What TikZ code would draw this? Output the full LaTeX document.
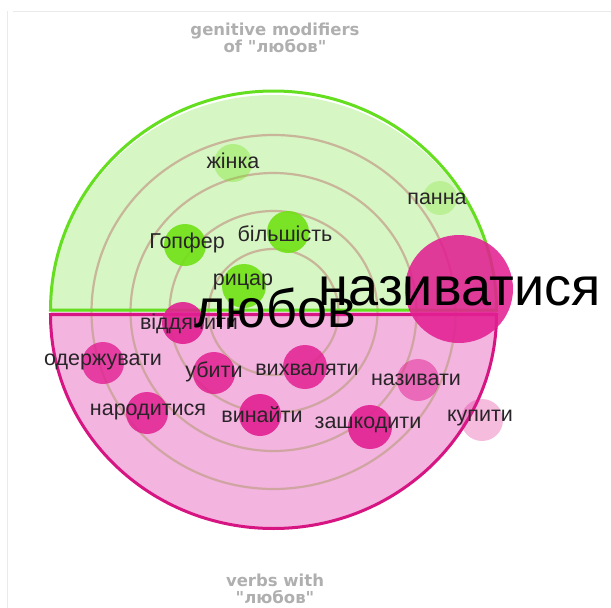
\documentclass[tikz,border=0pt]{standalone}
\usepackage{fontspec}
\setmainfont{Liberation Sans}
\newfontfamily\titlefont{DejaVu Sans}
\usetikzlibrary{positioning}
\definecolor{GreenFill}{RGB}{214, 246, 196}
\definecolor{GreenEdge}{RGB}{100, 222, 30}
\definecolor{GreenBub}{RGB}{112, 226, 20}
\definecolor{PinkFill}{RGB}{243, 180, 224}
\definecolor{PinkEdge}{RGB}{214, 20, 130}
\definecolor{PinkBub}{RGB}{226, 32, 146}
\definecolor{RingTan}{RGB}{196, 160, 140}
\definecolor{LabelDark}{RGB}{40, 36, 40}
\definecolor{TitleGray}{RGB}{175, 175, 175}
\definecolor{FrameGray}{RGB}{234, 234, 234}

\begin{document}
\begin{tikzpicture}[x=1pt, y=-1pt,
  ring/.style={RingTan, line width=2.2pt, opacity=0.75},
  gbub/.style={circle, fill=GreenBub, inner sep=0pt},
  pbub/.style={circle, fill=PinkBub, inner sep=0pt},
  lbl/.style={text=LabelDark, font=\fontsize{21.5}{21.5}\selectfont, inner sep=0pt},
  bigword/.style={font=\fontsize{54}{54}\selectfont, anchor=base, inner sep=0pt},
  heading/.style={text=TitleGray, font=\titlefont\bfseries\fontsize{16.5}{16.5}\selectfont, align=center}]
  \useasboundingbox (0,0) rectangle (611,608);

  % Frame edges
  \draw[FrameGray, line width=1pt] (13,11) -- (611,11);
  \draw[FrameGray, line width=1pt] (7,11) -- (7,608);

  % Headings
  \node[heading] (top-head) at (275,38) {genitive modifiers\\of "любов"};
  \node[heading] (bot-head) at (275,589) {verbs with\\"любов"};

  % Half discs
  \fill[GreenFill] (50.5,312) arc[start angle=180, end angle=0, x radius=223pt, y radius=217pt] -- cycle;
  \fill[PinkFill] (50.5,312) arc[start angle=180, end angle=360, x radius=223pt, y radius=217pt] -- cycle;

  % Rings
  \draw[ring] (273.5,312) ellipse (182pt and 177pt);
  \draw[ring] (273.5,312) ellipse (143pt and 139pt);
  \draw[ring] (273.5,312) ellipse (104pt and 101pt);
  \draw[ring] (273.5,312) ellipse (65pt and 63pt);

  % Borders
  \draw[GreenEdge, line width=3pt] (50.5,310) arc[start angle=180, end angle=0, x radius=223pt, y radius=219pt] -- cycle;
  \draw[PinkEdge, line width=3pt] (50.5,314.5) arc[start angle=180, end angle=360, x radius=223pt, y radius=214pt] -- cycle;

  % Genitive modifiers
  \node[gbub, minimum size=38pt, opacity=0.35] (b-zhinka) at (233,163) {};
  \node[gbub, minimum size=34pt, opacity=0.25] (b-panna) at (440,198) {};
  \node[gbub, minimum size=42pt, opacity=0.9] (b-gopfer) at (185,245) {};
  \node[gbub, minimum size=42pt, opacity=0.9] (b-bilshist) at (288,232) {};
  \node[gbub, minimum size=44pt, opacity=0.9] (b-rycar) at (244,286) {};
  \node[lbl] (zhinka) at (233,161) {жінка};
  \node[lbl] (panna) at (437,199) {панна};
  \node[lbl] (gopfer) at (187,243) {Гопфер};
  \node[lbl] (bilshist) at (285,234) {більшість};
  \node[lbl] (rycar) at (243,282) {рицар};

  % Verbs
  \node[pbub, minimum size=108pt, opacity=0.88] (b-nazyvatysia) at (459,289) {};
  \node[pbub, minimum size=42pt, opacity=0.9] (b-viddiachyty) at (183,323) {};
  \node[pbub, minimum size=42pt, opacity=0.8] (b-oderzhuvaty) at (103,363) {};
  \node[pbub, minimum size=42pt, opacity=0.85] (b-ubyty) at (214,373) {};
  \node[pbub, minimum size=44pt, opacity=0.85] (b-vykhvaliaty) at (305,367) {};
  \node[pbub, minimum size=42pt, opacity=0.5] (b-nazyvaty) at (418,380) {};
  \node[pbub, minimum size=42pt, opacity=0.85] (b-narodytysia) at (147,413) {};
  \node[pbub, minimum size=42pt, opacity=0.9] (b-vynaity) at (260,415) {};
  \node[pbub, minimum size=44pt, opacity=0.9] (b-zashkodyty) at (370,427) {};
  \node[pbub, minimum size=42pt, opacity=0.3] (b-kupyty) at (482,420) {};
  \node[lbl] (viddiachyty) at (189,324) {віддячити};
  \node[lbl] (oderzhuvaty) at (103,362) {одержувати};
  \node[lbl] (ubyty) at (214,372) {убити};
  \node[lbl] (vykhvaliaty) at (307,370) {вихваляти};
  \node[lbl] (nazyvaty) at (416,380) {називати};
  \node[lbl] (narodytysia) at (148,412) {народитися};
  \node[lbl] (vynaity) at (262,415) {винайти};
  \node[lbl] (zashkodyty) at (368,425) {зашкодити};
  \node[lbl] (kupyty) at (480,418) {купити};

  % Focus words
  \node[bigword] (liubov) at (275,327) {любов};
  \node[bigword] (nazyvatysia) at (460,305) {називатися};
\end{tikzpicture}
\end{document}
